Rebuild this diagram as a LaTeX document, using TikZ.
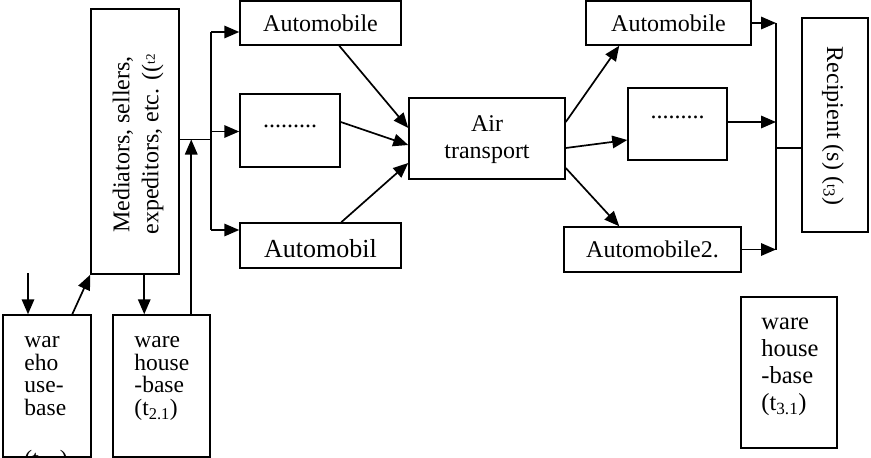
\documentclass[tikz,border=0pt]{standalone}
\usepackage{fontspec}
\setmainfont{Liberation Serif}
\usetikzlibrary{arrows.meta,calc}
\begin{document}
\begin{tikzpicture}[x=1pt,y=-1pt,
  box/.style={draw,line width=1.5pt,inner sep=0pt,minimum width=#1},
  box/.default=10pt,
  arr/.style={line width=1.7pt,-{Triangle[length=15pt,width=12.5pt]}},
  bus/.style={line width=1.1pt},
  lbl/.style={font=\fontsize{24}{22}\selectfont,inner sep=0pt},
  whtext/.style={font=\fontsize{23.5}{22.7}\selectfont,inner sep=0pt,align=left,anchor=north west}]
\useasboundingbox (0,0) rectangle (871,458);
% boxes
\node[box=88pt,minimum height=265pt] (med) at (135,141.5) {};
\node[box=88pt,minimum height=142pt] (wh1) at (47,386) {};
\node[box=97pt,minimum height=142pt] (wh2) at (161.5,386) {};
\node[box=161pt,minimum height=44pt] (autoA) at (320.5,23) {};
\node[box=100pt,minimum height=73pt] (dotsA) at (290,130.5) {};
\node[box=161pt,minimum height=45pt] (autoB) at (320.5,245.5) {};
\node[box=156pt,minimum height=81pt] (air) at (487,138.5) {};
\node[box=165pt,minimum height=44pt] (autoC) at (668.5,23) {};
\node[box=99pt,minimum height=72pt] (dotsC) at (677.5,124) {};
\node[box=177pt,minimum height=45pt] (autoD) at (652.5,249.5) {};
\node[box=66pt,minimum height=214pt] (rec) at (835,125) {};
\node[box=96pt,minimum height=151pt] (wh3) at (789,372.5) {};
% texts
\node[lbl,rotate=90,align=center,font=\fontsize{24}{29}\selectfont] (medt) at ($(med.center)+(3,3)$) {Mediators, sellers,\\expeditors, etc. ((\raisebox{0.3ex}{\fontsize{13}{13}\selectfont t2}};
\node[lbl] (autoAt) at (autoA.center) {Automobile};
\node[lbl] (dotsAt) at ($(dotsA.center)+(0,-4)$) {.........};
\node[lbl,font=\fontsize{26}{26}\selectfont] (autoBt) at ($(autoB.center)+(0,3)$) {Automobil};
\node[lbl,align=center,font=\fontsize{24}{27}\selectfont] (airt) at ($(air.center)+(0,1)$) {Air\\transport};
\node[lbl] (autoCt) at (autoC.center) {Automobile};
\node[lbl] (dotsCt) at ($(dotsC.center)+(0,-7)$) {.........};
\node[lbl] (autoDt) at (autoD.center) {Automobile2.};
\node[lbl,rotate=-90,font=\fontsize{24}{24}\selectfont] (rect) at ($(rec.center)+(-2,1)$) {Recipient (s) ({\fontsize{14}{14}\selectfont t}\textsubscript{3})};
\node[whtext] (wh1t) at ($(wh1.north west)+(22,22)$) {war\\eho\\use-\\base};
\begin{scope}
\clip ($(wh1.north west)+(1,1)$) rectangle ($(wh1.south east)+(-1,-1)$);
\node[whtext] (wh1t5) at ($(wh1.north west)+(22,136)$) {(t\textsubscript{1.1})};
\end{scope}
\node[whtext] (wh2t) at ($(wh2.north west)+(22,22)$) {ware\\house\\-base\\(t\textsubscript{2.1})};
\node[whtext,font=\fontsize{24.5}{27}\selectfont] (wh3t) at ($(wh3.north west)+(21,22)$) {ware\\house\\-base\\(t\textsubscript{3.1})};
% left connectors
\coordinate (in1) at (28,273);
\draw[arr] (in1) -- (in1 |- wh1.north);
\draw[arr] ($(wh1.north west)+(70,0)$) -- (med.south west);
\coordinate (m1) at ($(med.south west)+(54,0)$);
\draw[arr] (m1) -- (m1 |- wh2.north);
\coordinate (j1) at (211,139.5);
\coordinate (u2) at ($(wh2.north west)+(79,0)$);
\draw[bus] (med.east |- j1) -- (j1);
\draw[arr] (u2) -- (u2 |- j1);
\coordinate (b1) at (211,32);
\coordinate (b2) at (211,131.5);
\coordinate (b3) at (211,230);
\draw[bus] (b1) -- (b3);
\draw[arr] (b1) -- (b1 -| autoA.west);
\draw[arr] (b2) -- (b2 -| dotsA.west);
\draw[arr] (b3) -- (b3 -| autoB.west);
% into air
\draw[arr] ($(autoA.south west)+(100,0)$) -- ($(air.west)+(0,-10.5)$);
\draw[arr] ($(dotsA.east)+(0,-8.5)$) -- ($(air.west)+(0,6.5)$);
\draw[arr] ($(autoB.north west)+(102,0)$) -- ($(air.west)+(0,24.5)$);
% out of air
\draw[arr] ($(air.east)+(0,-16.5)$) -- ($(autoC.south west)+(34,0)$);
\draw[arr] ($(air.east)+(0,9.5)$) -- ($(dotsC.west)+(0,16)$);
\draw[arr] ($(air.east)+(0,29.5)$) -- ($(autoD.north west)+(56,0)$);
% right bus
\coordinate (c1) at (776,23);
\coordinate (c2) at (776,122);
\coordinate (c3) at (776,249.5);
\coordinate (c4) at (776,148);
\draw[bus] (c1) -- (c3);
\draw[arr] (autoC.east) -- (c1);
\draw[arr] (dotsC.east |- c2) -- (c2);
\draw[arr] (autoD.east) -- (c3);
\draw[bus] (c4) -- (c4 -| rec.west);
\end{tikzpicture}
\end{document}
